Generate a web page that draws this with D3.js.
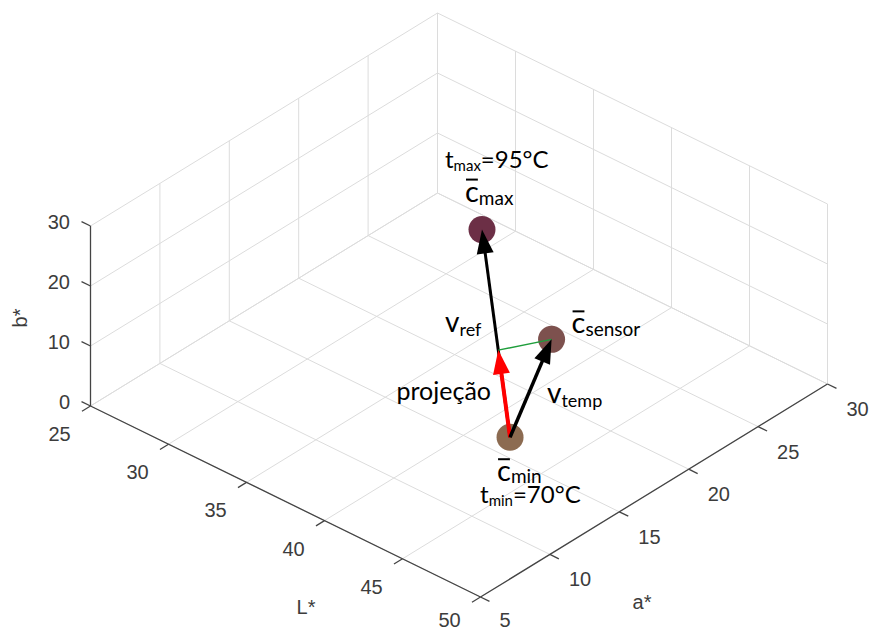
<!DOCTYPE html>
<html>
<head>
<meta charset="utf-8">
<script src="https://cdn.jsdelivr.net/npm/d3@7"></script>
<style>
  body { margin: 0; background: #fff; }
  svg { display: block; }
</style>
</head>
<body>
<svg id="chart" width="870" height="631"></svg>
<script>
// axis ticks
const lTicks = [25, 30, 35, 40, 45, 50];
const aTicks = [5, 10, 15, 20, 25, 30];
const bTicks = [0, 10, 20, 30];

// mean colours in L*a*b*: min temperature, sensor, max temperature
const pointNames = ['cmin', 'csensor', 'cmax'];
const pointL = [47.0, 42.1, 31.5];
const pointA = [10.5, 19.0, 25.9];
const pointB = [15, 13, 8];
const pointColors = ['#8c6b51', '#7d514e', '#6c2f46'];

const svg = d3.select('#chart');

// view of the box: each axis scale returns a screen offset [dx, dy]
const origin = [90.5, 406];
const lScale = d3.scaleLinear().domain([25, 50]).range([[0, 0], [390, 191]]);
const aScale = d3.scaleLinear().domain([5, 30]).range([[0, 0], [347, -213]]);
const bScale = d3.scaleLinear().domain([0, 30]).range([[0, 0], [0, -180]]);

function project(L, a, b) {
  const p = lScale(L), q = aScale(a), r = bScale(b);
  return [origin[0] + p[0] + q[0] + r[0], origin[1] + p[1] + q[1] + r[1]];
}

function unit(v) {
  const n = Math.hypot(v[0], v[1]);
  return [v[0] / n, v[1] / n];
}

function seg(g, p1, p2) {
  return g.append('line')
    .attr('x1', p1[0]).attr('y1', p1[1])
    .attr('x2', p2[0]).attr('y2', p2[1]);
}

// grid on floor and the two back walls
const grid = svg.append('g').attr('stroke', '#dcdcdc').attr('stroke-width', 1);
lTicks.forEach((L) => seg(grid, project(L, 5, 0), project(L, 30, 0)));
aTicks.forEach((a) => seg(grid, project(25, a, 0), project(50, a, 0)));
aTicks.forEach((a) => seg(grid, project(25, a, 0), project(25, a, 30)));
bTicks.forEach((b) => seg(grid, project(25, 5, b), project(25, 30, b)));
lTicks.forEach((L) => seg(grid, project(L, 30, 0), project(L, 30, 30)));
bTicks.forEach((b) => seg(grid, project(25, 30, b), project(50, 30, b)));

// axis lines
const axes = svg.append('g').attr('stroke', '#444').attr('stroke-width', 1.3);
seg(axes, project(25, 5, 0), project(25, 5, 30));
seg(axes, project(25, 5, 0), project(50, 5, 0));
seg(axes, project(50, 5, 0), project(50, 30, 0));

const tickLen = 10;
const negL = unit([-390, -191]);
const posL = unit([390, 191]);
const negA = unit([-347, 213]);

const tickText = svg.append('g')
  .attr('font-family', 'Liberation Sans, Arial, sans-serif')
  .attr('font-size', 20)
  .attr('fill', '#3c3c3c');

bTicks.forEach((b) => {
  const p = project(25, 5, b);
  seg(axes, p, [p[0] + negL[0] * tickLen, p[1] + negL[1] * tickLen]);
  tickText.append('text')
    .attr('x', 70).attr('y', p[1] - 4)
    .attr('text-anchor', 'end').attr('dominant-baseline', 'central')
    .text(b);
});

lTicks.forEach((L) => {
  const p = project(L, 5, 0);
  seg(axes, p, [p[0] + negA[0] * tickLen, p[1] + negA[1] * tickLen]);
  tickText.append('text')
    .attr('x', p[0] - 31).attr('y', Math.min(p[1] + 28, 620))
    .attr('text-anchor', 'middle').attr('dominant-baseline', 'central')
    .text(L);
});

aTicks.forEach((a) => {
  const p = project(50, a, 0);
  seg(axes, p, [p[0] + posL[0] * tickLen, p[1] + posL[1] * tickLen]);
  tickText.append('text')
    .attr('x', p[0] + 19).attr('y', Math.min(p[1] + 25, 620))
    .attr('text-anchor', 'start').attr('dominant-baseline', 'central')
    .text(a);
});

tickText.append('text').attr('x', 306).attr('y', 607)
  .attr('text-anchor', 'middle').attr('dominant-baseline', 'central').text('L*');
tickText.append('text').attr('x', 642).attr('y', 602)
  .attr('text-anchor', 'middle').attr('dominant-baseline', 'central').text('a*');
tickText.append('text')
  .attr('transform', 'translate(20,318) rotate(-90)')
  .attr('text-anchor', 'middle').attr('dominant-baseline', 'central').text('b*');

// points
const pts = pointNames.map((name, i) => ({
  name,
  lab: [pointL[i], pointA[i], pointB[i]],
  xy: project(pointL[i], pointA[i], pointB[i]),
  color: pointColors[i]
}));
const byName = Object.fromEntries(pts.map((p) => [p.name, p]));

svg.append('g').selectAll('circle')
  .data(pts)
  .join('circle')
  .attr('cx', (p) => p.xy[0])
  .attr('cy', (p) => p.xy[1])
  .attr('r', 13.5)
  .attr('fill', (p) => p.color);

// projection of the sensor colour onto v_ref (in L*a*b* units)
const cmin = byName.cmin.lab, cmax = byName.cmax.lab, cs = byName.csensor.lab;
const ref = cmax.map((v, i) => v - cmin[i]);
const tmp = cs.map((v, i) => v - cmin[i]);
const t = d3.sum(ref, (v, i) => v * tmp[i]) / d3.sum(ref, (v) => v * v);
const projLab = cmin.map((v, i) => v + t * ref[i]);
const projXY = project(projLab[0], projLab[1], projLab[2]);

function arrow(from, to, color, width, headLen, headW) {
  const d = unit([to[0] - from[0], to[1] - from[1]]);
  const n = [-d[1], d[0]];
  const base = [to[0] - d[0] * headLen, to[1] - d[1] * headLen];
  const g = svg.append('g');
  seg(g, from, [to[0] - d[0] * headLen * 0.7, to[1] - d[1] * headLen * 0.7])
    .attr('stroke', color).attr('stroke-width', width);
  g.append('path')
    .attr('d', d3.line()([
      to,
      [base[0] + n[0] * headW / 2, base[1] + n[1] * headW / 2],
      [base[0] - n[0] * headW / 2, base[1] - n[1] * headW / 2]
    ]) + 'Z')
    .attr('fill', color);
}

arrow(byName.cmin.xy, byName.cmax.xy, '#000', 3, 24, 17);
seg(svg, projXY, byName.csensor.xy).attr('stroke', '#1f9e3c').attr('stroke-width', 1.5);
arrow(byName.cmin.xy, projXY, '#f00', 4, 24, 17);
arrow(byName.cmin.xy, byName.csensor.xy, '#000', 3.5, 24, 17);

// annotations
const ann = svg.append('g').attr('font-family', 'Lato, Open Sans, sans-serif').attr('fill', '#000');

function label(x, y, main, mainSize, sub, subSize, subShift, rest, bar) {
  const txt = ann.append('text').attr('x', x).attr('y', y);
  const m = txt.append('tspan').attr('font-size', mainSize).text(main);
  txt.append('tspan').attr('font-size', subSize).attr('dy', subShift).text(sub);
  if (rest) {
    txt.append('tspan').attr('font-size', mainSize).attr('dy', -subShift).text(rest);
  }
  if (bar) {
    const w = m.node().getComputedTextLength();
    ann.append('line')
      .attr('x1', x + 1).attr('x2', x + w - 1)
      .attr('y1', y - 22).attr('y2', y - 22)
      .attr('stroke', '#000').attr('stroke-width', 2);
  }
}

const pMax = byName.cmax.xy, pMin = byName.cmin.xy, pS = byName.csensor.xy;
label(pMax[0] - 37, pMax[1] - 62, 't', 24, 'max', 15, 3, '=95°C', false);
label(pMax[0] - 17, pMax[1] - 28, 'c', 29, 'max', 19, 3, null, true);
label(pS[0] + 20, pS[1] - 6, 'c', 29, 'sensor', 19, 3, null, true);
label(pMin[0] - 13, pMin[1] + 44, 'c', 29, 'min', 19, 2, null, true);
label(pMin[0] - 30, pMin[1] + 66, 't', 24, 'min', 15, 3, '=70°C', false);
label(445, 332, 'v', 28, 'ref', 18, 4, null, false);
label(547, 403, 'v', 28, 'temp', 18, 4, null, false);
ann.append('text')
  .attr('x', pMin[0] - 19).attr('y', 400)
  .attr('text-anchor', 'end')
  .attr('font-size', 25)
  .text('projeção');
</script>
</body>
</html>
